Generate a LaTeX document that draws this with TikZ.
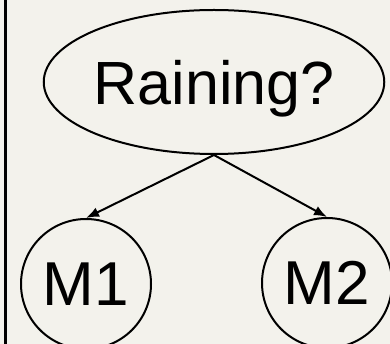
\documentclass[tikz,border=0pt]{standalone}
\usepackage{fontspec}
\setmainfont{Liberation Sans}
\usepackage{xcolor}
\usepackage{tikz}
\usetikzlibrary{arrows.meta}
\usetikzlibrary{shapes.geometric}
\definecolor{paper}{RGB}{243,242,236}
\tikzstyle{query} = [draw, ellipse, line width=2pt, minimum width=322pt, minimum height=144pt, inner sep=0pt, text depth=0pt, font=\fontsize{61}{61}\selectfont]
\tikzstyle{model} = [draw, circle, line width=2pt, minimum size=130pt, inner sep=0pt, font=\fontsize{62}{62}\selectfont]
\tikzstyle{link} = [-{Latex[length=13pt,width=10pt]}, line width=2pt]

\begin{document}
\begin{tikzpicture}[x=1pt, y=-1pt]
\fill [paper] (0,0) rectangle (390,344);
\useasboundingbox (0,0) rectangle (390,344);
\draw [line width=3pt] (5,0) -- (5,344);
\node [query] (rain) at (214,82) {Raining?};
\node [model] (m1) at (86,284) {M1};
\node [model] (m2) at (327,283) {M2};
\draw [link] (rain.south) -- (m1.north);
\draw [link] (rain.south) -- (m2.north);
\end{tikzpicture}
\end{document}
